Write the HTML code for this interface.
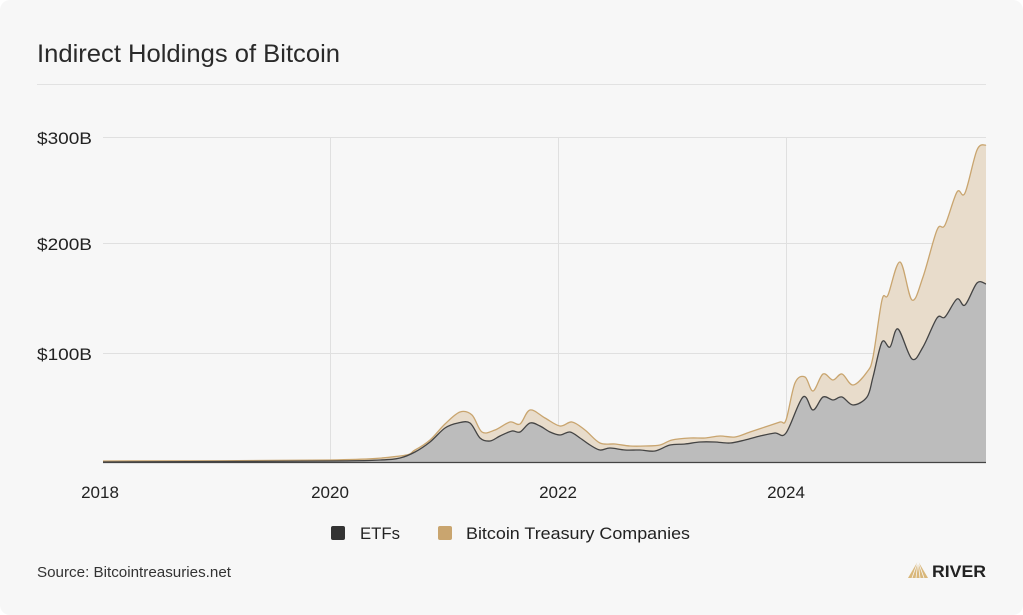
<!DOCTYPE html>
<html><head><meta charset="utf-8"><style>
html,body{margin:0;padding:0;background:#fff;}
.card{position:absolute;left:0;top:0;width:1023px;height:615px;background:#f7f7f7;border-radius:10px;font-family:"Liberation Sans",sans-serif;color:#222;}
</style></head><body><div class="card">
<svg width="1023" height="615" xmlns="http://www.w3.org/2000/svg" style="position:absolute;left:0;top:0" font-family="Liberation Sans, sans-serif">
<text x="37" y="62" font-size="25" fill="#2a2a2a" textLength="303" lengthAdjust="spacingAndGlyphs">Indirect Holdings of Bitcoin</text>
<line x1="37" y1="84.5" x2="986" y2="84.5" stroke="#e2e2e2" stroke-width="1"/>
<g stroke="#e0e0e0" stroke-width="1">
<line x1="103" y1="137.5" x2="986" y2="137.5"/>
<line x1="103" y1="243.5" x2="986" y2="243.5"/>
<line x1="103" y1="353.5" x2="986" y2="353.5"/>
<line x1="330.5" y1="137" x2="330.5" y2="462"/>
<line x1="558.5" y1="137" x2="558.5" y2="462"/>
<line x1="786.5" y1="137" x2="786.5" y2="462"/>
</g>
<g font-size="17" fill="#222">
<text x="37" y="144" textLength="55" lengthAdjust="spacingAndGlyphs">$300B</text>
<text x="37" y="250" textLength="55" lengthAdjust="spacingAndGlyphs">$200B</text>
<text x="37" y="360" textLength="55" lengthAdjust="spacingAndGlyphs">$100B</text>
<text x="100" y="498" text-anchor="middle">2018</text>
<text x="330" y="498" text-anchor="middle">2020</text>
<text x="558" y="498" text-anchor="middle">2022</text>
<text x="786" y="498" text-anchor="middle">2024</text>
</g>
<path id="topFill" fill="#e8dccb"/>
<path id="botFill" fill="#bcbcbc"/>
<path id="topLine" fill="none" stroke="#c9a56f" stroke-width="1.3"/>
<path id="botLine" fill="none" stroke="#444" stroke-width="1.3"/>
<line x1="103" y1="462.5" x2="986" y2="462.5" stroke="#444" stroke-width="1.2"/>
<rect x="331" y="526" width="14" height="14" rx="2" fill="#333"/>
<text x="360" y="539" font-size="17" fill="#222" textLength="40" lengthAdjust="spacingAndGlyphs">ETFs</text>
<rect x="438" y="526" width="14" height="14" rx="2" fill="#c9a56f"/>
<text x="466" y="539" font-size="17" fill="#222" textLength="224" lengthAdjust="spacingAndGlyphs">Bitcoin Treasury Companies</text>
<text x="37" y="577" font-size="15" fill="#333" textLength="194" lengthAdjust="spacingAndGlyphs">Source: Bitcointreasuries.net</text>
<g transform="translate(908,561)">
<path d="M10,0 L0,17 L20,17 Z" fill="#d9b77a"/>
<path d="M10,0 L4,17 M10,0 L8,17 M10,0 L12,17 M10,0 L16,17" stroke="#f7f7f7" stroke-width="0.8"/>
</g>
<text x="932" y="577" font-size="17" font-weight="bold" fill="#222" textLength="54" lengthAdjust="spacingAndGlyphs">RIVER</text>
</svg>
</div>
<script>
(function(){
var bot=[[103,462],[330,461],[380,460],[400,458],[415,452],[430,442],[445,428],[458,423],[470,423],[480,438],[490,441],[500,436],[512,431],[520,432],[530,423],[540,426],[550,432],[560,435],[570,432],[580,438],[590,445],[600,450],[610,448],[625,450],[640,450],[655,451],[670,445],[685,444],[700,442],[715,442],[730,443],[745,440],[760,436],[775,433],[786,433],[803,397],[813,410],[823,397],[833,400],[842,397],[853,405],[867,397],[873,377],[882,342],[890,347],[898,329],[912,359],[923,347],[937,318],[945,317],[957,299],[965,305],[977,283],[986,284]];
var tp=[[103,461],[330,460],[400,456],[415,450],[430,440],[445,424],[460,412],[472,415],[482,432],[495,430],[510,422],[520,424],[530,410],[545,418],[560,426],[572,422],[585,430],[600,443],[615,444],[630,446],[645,446],[660,445],[672,440],[690,438],[705,438],[720,436],[735,437],[750,432],[765,427],[780,422],[786,420],[795,383],[805,377],[813,391],[823,374],[833,380],[842,374],[853,385],[867,372],[873,357],[882,300],[888,295],[900,262],[912,300],[923,277],[937,230],[945,225],[957,192],[965,193],[977,150],[986,145]];
function cr(p){var d="M"+p[0][0]+","+p[0][1];for(var i=0;i<p.length-1;i++){var p0=p[i-1]||p[i],p1=p[i],p2=p[i+1],p3=p[i+2]||p2;var t=6;d+=" C"+(p1[0]+(p2[0]-p0[0])/t)+","+(p1[1]+(p2[1]-p0[1])/t)+" "+(p2[0]-(p3[0]-p1[0])/t)+","+(p2[1]-(p3[1]-p1[1])/t)+" "+p2[0]+","+p2[1];}return d;}
var tb=cr(bot),tt=cr(tp);
document.getElementById('botLine').setAttribute('d',tb);
document.getElementById('topLine').setAttribute('d',tt);
document.getElementById('botFill').setAttribute('d',tb+" L986,462 L103,462 Z");
document.getElementById('topFill').setAttribute('d',tt+" L986,462 L103,462 Z");
})();
</script>
</body></html>
